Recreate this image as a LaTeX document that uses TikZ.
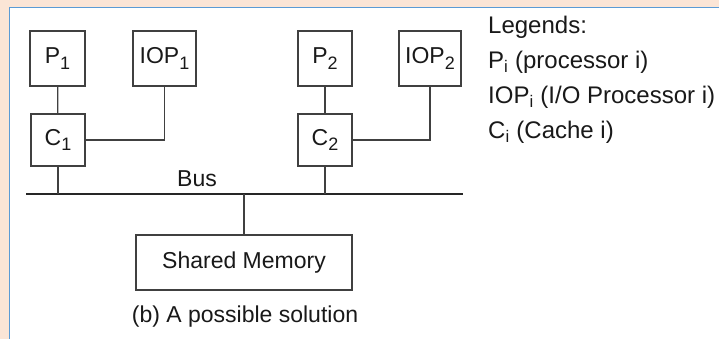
\documentclass[tikz,border=0pt]{standalone}
\usepackage{fontspec}
\setmainfont{Liberation Sans}
\usetikzlibrary{positioning}
\definecolor{peach}{HTML}{FBE5D6}
\definecolor{frameblue}{HTML}{5B9BD5}
\newcommand{\idx}[1]{\raisebox{-0.45ex}{\fontsize{18}{18}\selectfont #1}}

\begin{document}
\begin{tikzpicture}[
        x=1pt, y=-1pt,
        unit/.style={rectangle, draw=black!75, line width=1.4pt, inner sep=0pt, font=\fontsize{23}{27}\selectfont, text=black!90},
        link/.style={draw=black!75, line width=1.3pt},
        busline/.style={draw=black!85, line width=2.4pt},
        label/.style={font=\fontsize{23}{27}\selectfont, text=black!90, inner sep=0pt},
        legend/.style={font=\fontsize{24}{28}\selectfont, text=black!90, inner sep=0pt, anchor=base west}
    ]
    % page and panel
    \useasboundingbox (0,0) rectangle (719,339);
    \fill [peach] (0,0) rectangle (719,339);
    \filldraw [fill=white, draw=frameblue, line width=1pt] (9.5,7.5) rectangle (725,345);
    % processors, I/O processors and caches
    \node [unit, minimum width=55pt, minimum height=55pt] (p1) at (57.5,58.5) {P\idx{1}};
    \node [unit, minimum width=63pt, minimum height=55pt] (iop1) at (164.5,58.5) {IOP\idx{1}};
    \node [unit, minimum width=54pt, minimum height=52pt] (c1) at (58,140) {C\idx{1}};
    \node [unit, minimum width=54pt, minimum height=55pt] (p2) at (325,58.5) {P\idx{2}};
    \node [unit, minimum width=62pt, minimum height=55pt] (iop2) at (430,58.5) {IOP\idx{2}};
    \node [unit, minimum width=54pt, minimum height=52pt] (c2) at (325,140) {C\idx{2}};
    \node [unit, minimum width=216pt, minimum height=55pt] (mem) at (244,262.5) {Shared Memory};
    % bus
    \coordinate (busl) at (26,194);
    \coordinate (busr) at (463,194);
    \path [busline] (busl) -- (busr);
    \node [label, anchor=base] (bus) at (197,186) {Bus};
    % connections
    \path [link] (p1) -- (c1);
    \path [link] (p2) -- (c2);
    \path [link] (c1.east) -| (iop1.south);
    \path [link] (c2.east) -| (iop2.south);
    \path [link] (c1.south) -- (c1.south |- busl);
    \path [link] (c2.south) -- (c2.south |- busl);
    \path [link] (mem.north) -- (mem.north |- busl);
    \node [label, anchor=base] (caption) at (245,322) {(b) A possible solution};
    % legend
    \node [legend] (lg0) at (488,34) {Legends:};
    \node [legend] (lg1) at (488,69) {P\textsubscript{i} (processor i)};
    \node [legend] (lg2) at (488,104) {IOP\textsubscript{i} (I/O Processor i)};
    \node [legend] (lg3) at (488,139) {C\textsubscript{i} (Cache i)};
\end{tikzpicture}
\end{document}
